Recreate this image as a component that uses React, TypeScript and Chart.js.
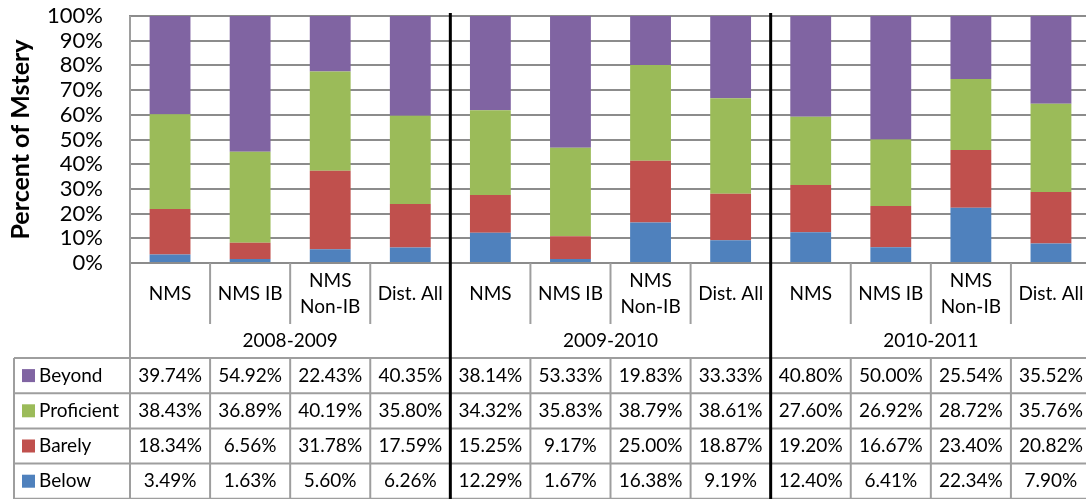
import React, { useEffect, useRef } from "react";
import { Chart, registerables } from "chart.js";

Chart.register(...registerables);

// Category labels (multi-line where the header cell wraps)
const categories: string[][] = [
  ["NMS"], ["NMS IB"], ["NMS", "Non-IB"], ["Dist. All"],
  ["NMS"], ["NMS IB"], ["NMS", "Non-IB"], ["Dist. All"],
  ["NMS"], ["NMS IB"], ["NMS", "Non-IB"], ["Dist. All"],
];
const years = ["2008-2009", "2009-2010", "2010-2011"];
const perYear = 4;

// Percent of students per mastery level
const beyond = [39.74, 54.92, 22.43, 40.35, 38.14, 53.33, 19.83, 33.33, 40.8, 50.0, 25.54, 35.52];
const proficient = [38.43, 36.89, 40.19, 35.8, 34.32, 35.83, 38.79, 38.61, 27.6, 26.92, 28.72, 35.76];
const barely = [18.34, 6.56, 31.78, 17.59, 15.25, 9.17, 25.0, 18.87, 19.2, 16.67, 23.4, 20.82];
const below = [3.49, 1.63, 5.6, 6.26, 12.29, 1.67, 16.38, 9.19, 12.4, 6.41, 22.34, 7.9];

const yTicks = [0, 10, 20, 30, 40, 50, 60, 70, 80, 90, 100];

const COLORS = {
  beyond: "#8064A2",
  proficient: "#9BBB59",
  barely: "#C0504D",
  below: "#4F81BD",
};

const FONT = "Lato, 'Open Sans', sans-serif";
const GRID = "#8c8c8c";
const BORDER = "#9e9e9e";

// Table rows, top to bottom
const tableRows = [
  { label: "Beyond", color: COLORS.beyond, values: beyond },
  { label: "Proficient", color: COLORS.proficient, values: proficient },
  { label: "Barely", color: COLORS.barely, values: barely },
  { label: "Below", color: COLORS.below, values: below },
];

const fmt = (v: number) => v.toFixed(2) + "%";

const dataTablePlugin = {
  id: "dataTable",
  afterDraw(chart: any) {
    const ctx: CanvasRenderingContext2D = chart.ctx;
    const xs = chart.scales.x;
    const area = chart.chartArea;
    const n = categories.length;
    const centers = categories.map((_, i) => xs.getPixelForValue(i));
    const step = n > 1 ? centers[1] - centers[0] : area.width;
    const edges = [...centers.map((c) => c - step / 2), centers[n - 1] + step / 2];

    const bottom = chart.height;
    const axisY = area.bottom;
    const headerBottom = axisY + 61;
    const tableTop = headerBottom + 34;
    const rowH = 35.2;
    const tableLeft = 14;

    ctx.save();
    ctx.strokeStyle = BORDER;
    ctx.lineWidth = 2;

    // header dividers between categories
    for (let i = 1; i < n; i++) {
      if (i % perYear === 0) continue;
      ctx.beginPath();
      ctx.moveTo(edges[i], axisY);
      ctx.lineTo(edges[i], headerBottom);
      ctx.stroke();
    }
    // value column dividers
    for (let i = 1; i < n; i++) {
      if (i % perYear === 0) continue;
      ctx.beginPath();
      ctx.moveTo(edges[i], tableTop);
      ctx.lineTo(edges[i], bottom);
      ctx.stroke();
    }
    // left edge of the plot / table body
    ctx.beginPath();
    ctx.moveTo(edges[0], area.top);
    ctx.lineTo(edges[0], bottom);
    ctx.stroke();
    // left edge of the legend column
    ctx.beginPath();
    ctx.moveTo(tableLeft, tableTop);
    ctx.lineTo(tableLeft, bottom);
    ctx.stroke();
    // row lines
    for (let r = 0; r <= tableRows.length; r++) {
      const y = tableTop + r * rowH;
      ctx.beginPath();
      ctx.moveTo(tableLeft, y);
      ctx.lineTo(edges[n], y);
      ctx.stroke();
    }

    // text
    ctx.fillStyle = "#000";
    ctx.font = `19px ${FONT}`;
    ctx.textAlign = "center";
    ctx.textBaseline = "middle";
    const headerMid = (axisY + headerBottom) / 2;
    categories.forEach((lines, i) => {
      const lh = 26;
      const y0 = headerMid - ((lines.length - 1) * lh) / 2;
      lines.forEach((t, k) => ctx.fillText(t, centers[i], y0 + k * lh));
    });
    years.forEach((yr, g) => {
      const x = (edges[g * perYear] + edges[(g + 1) * perYear]) / 2;
      ctx.fillText(yr, x, (headerBottom + tableTop) / 2);
    });

    tableRows.forEach((row, r) => {
      const yMid = tableTop + r * rowH + rowH / 2;
      ctx.fillStyle = row.color;
      ctx.fillRect(22, yMid - 6.5, 13, 13);
      ctx.fillStyle = "#000";
      ctx.textAlign = "left";
      ctx.fillText(row.label, 39, yMid);
      ctx.textAlign = "center";
      row.values.forEach((v, i) => ctx.fillText(fmt(v), centers[i], yMid));
    });

    // heavy separators between school years
    ctx.strokeStyle = "#000";
    ctx.lineWidth = 3;
    for (let g = 1; g < years.length; g++) {
      const x = edges[g * perYear];
      ctx.beginPath();
      ctx.moveTo(x, area.top - 3);
      ctx.lineTo(x, bottom);
      ctx.stroke();
    }
    ctx.restore();
  },
};

export default function App() {
  const ref = useRef<HTMLCanvasElement | null>(null);

  useEffect(() => {
    if (!ref.current) return;
    const labels = categories.map((c) => c.join(" "));
    const chart = new Chart(ref.current, {
      type: "bar",
      data: {
        labels,
        datasets: [
          { label: "Below", data: below, backgroundColor: COLORS.below },
          { label: "Barely", data: barely, backgroundColor: COLORS.barely },
          { label: "Proficient", data: proficient, backgroundColor: COLORS.proficient },
          { label: "Beyond", data: beyond, backgroundColor: COLORS.beyond },
        ],
      },
      options: {
        responsive: false,
        animation: false,
        devicePixelRatio: 1,
        layout: { padding: { left: 0, right: 0, top: 16, bottom: 236 } },
        datasets: { bar: { barPercentage: 0.51, categoryPercentage: 1 } },
        plugins: { legend: { display: false }, tooltip: { enabled: false } },
        scales: {
          x: { stacked: true, display: false },
          y: {
            stacked: true,
            min: 0,
            max: 100,
            afterFit: (scale: any) => {
              scale.width = 130;
            },
            afterBuildTicks: (scale: any) => {
              scale.ticks = yTicks.map((v) => ({ value: v }));
            },
            grid: {
              color: GRID,
              lineWidth: 2,
              drawTicks: true,
              tickLength: 27,
              tickColor: "rgba(0,0,0,0)",
            },
            border: { display: true, color: GRID, width: 2 },
            ticks: {
              padding: 0,
              autoSkip: false,
              color: "#000",
              font: { family: FONT, size: 22 },
              callback: (v: any) => `${v}%`,
            },
            title: {
              display: true,
              text: "Percent of Mstery",
              color: "#000",
              font: { family: FONT, size: 25, weight: "bold" },
              padding: { top: 6, bottom: 0 },
            },
          },
        },
      },
      plugins: [dataTablePlugin],
    });
    return () => chart.destroy();
  }, []);

  return (
    <div
      style={{
        position: "fixed",
        left: 0,
        top: 0,
        width: 1086,
        height: 499,
        overflow: "hidden",
        background: "#fff",
      }}
    >
      <canvas ref={ref} width={1091} height={499} style={{ display: "block" }} />
    </div>
  );
}
